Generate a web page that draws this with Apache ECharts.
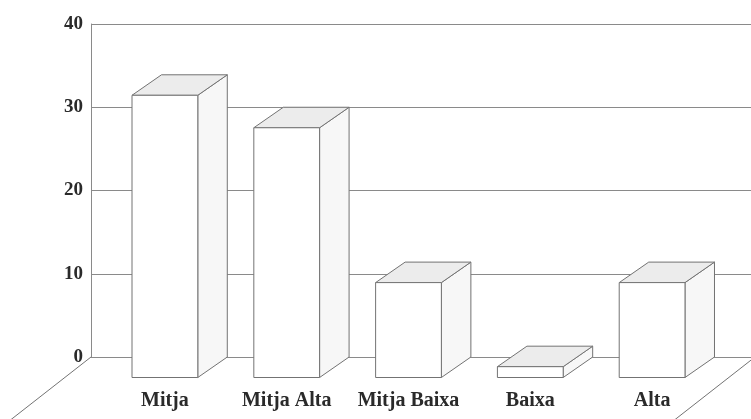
<!DOCTYPE html>
<html>
<head>
<meta charset="utf-8">
<script src="https://cdn.jsdelivr.net/npm/echarts@6/dist/echarts.min.js"></script>
<style>
  html, body { margin: 0; padding: 0; background: #fff; }
  #chart { width: 751px; height: 419px; }
</style>
</head>
<body>
<div id="chart"></div>
<script>
const categories = ['Mitja', 'Mitja Alta', 'Mitja Baixa', 'Baixa', 'Alta'];
const values = [33.9, 30.0, 11.4, 1.3, 11.4];
const yTicks = [0, 10, 20, 30, 40];

// 3D depth of the boxes and floor
const depthX = 29.5, depthY = 20.5;
const floorX = -78, floorY = 61;

const lineCol = '#737373';
const labelFont = { fontFamily: 'Liberation Serif', fontWeight: 'bold', color: '#2a2a2a' };

let myChart = echarts.init(document.getElementById('chart'));

function renderBox(params, api) {
    const i = api.value(0), v = api.value(1);
    const base = api.coord([i, 0]);
    const top = api.coord([i, v]);
    const bw = api.size([1, 0])[0] * 0.54;
    const x0 = base[0] - bw / 2, x1 = base[0] + bw / 2;
    const yTop = top[1] + depthY, yBot = base[1] + depthY;
    const st = { stroke: lineCol, lineWidth: 1 };
    return {
        type: 'group',
        children: [
            { type: 'polygon', shape: { points: [[x1, yTop], [x1 + depthX, yTop - depthY], [x1 + depthX, yBot - depthY], [x1, yBot]] },
              style: Object.assign({ fill: '#f7f7f7' }, st) },
            { type: 'polygon', shape: { points: [[x0, yTop], [x1, yTop], [x1 + depthX, yTop - depthY], [x0 + depthX, yTop - depthY]] },
              style: Object.assign({ fill: '#ececec' }, st) },
            { type: 'rect', shape: { x: x0, y: yTop, width: bw, height: yBot - yTop },
              style: Object.assign({ fill: '#fff' }, st) }
        ]
    };
}

function renderFloor(params, api) {
    const cs = params.coordSys;
    const yb = cs.y + cs.height;
    const xl = cs.x, xr = cs.x + cs.width + 4;
    const st = { stroke: lineCol, lineWidth: 1 };
    return {
        type: 'group',
        children: [
            { type: 'line', shape: { x1: xl, y1: yb, x2: xl + floorX * 1.5, y2: yb + floorY * 1.5 }, style: st },
            { type: 'line', shape: { x1: xr, y1: yb, x2: xr + floorX * 1.5, y2: yb + floorY * 1.5 }, style: st }
        ]
    };
}

myChart.setOption({
    backgroundColor: '#fff',
    animation: false,
    grid: [
        { left: 91, right: 0, top: 24, bottom: 62 },
        { left: 104, right: 38, top: 24, bottom: 62 }
    ],
    xAxis: [
        { type: 'category', gridIndex: 0, data: categories, show: false },
        {
            type: 'category', gridIndex: 1, data: categories,
            axisLine: { show: false }, axisTick: { show: false },
            axisLabel: Object.assign({ fontSize: 20, margin: 34, interval: 0 }, labelFont)
        }
    ],
    yAxis: [
        {
            type: 'value', gridIndex: 0, min: yTicks[0], max: yTicks[yTicks.length - 1], interval: 10,
            axisLine: { show: true, lineStyle: { color: '#8a8a8a' } },
            axisTick: { show: false },
            splitLine: { lineStyle: { color: '#8a8a8a', width: 1 } },
            axisLabel: Object.assign({ fontSize: 19, margin: 8 }, labelFont)
        },
        { type: 'value', gridIndex: 1, min: 0, max: 40, show: false }
    ],
    series: [
        {
            name: 'floor', type: 'custom', xAxisIndex: 0, yAxisIndex: 0,
            renderItem: renderFloor, data: [[0, 0]], silent: true
        },
        {
            name: 'boxes', type: 'custom', xAxisIndex: 1, yAxisIndex: 1,
            renderItem: renderBox,
            data: values.map((v, i) => [i, v])
        }
    ]
});
</script>
</body>
</html>
